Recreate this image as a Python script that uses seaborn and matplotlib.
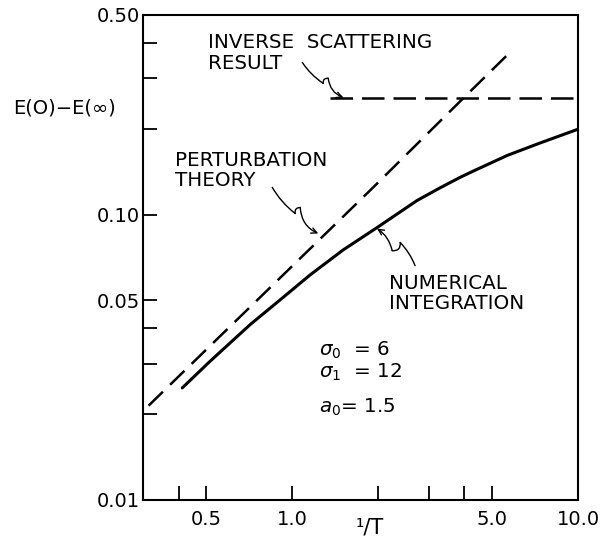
import matplotlib
matplotlib.use("Agg")
import matplotlib.pyplot as plt
from matplotlib.ticker import FixedLocator, FixedFormatter, NullFormatter
import pandas as pd
import seaborn as sns

# values
numeric_x = [0.412, 0.517, 0.713, 0.908, 1.156, 1.508, 1.98, 2.735, 3.29, 3.87, 4.29, 5.65, 7.36, 10.0]
numeric_y = [0.0247, 0.0307, 0.0412, 0.0503, 0.0615, 0.0752, 0.090, 0.112, 0.124, 0.135, 0.1418, 0.161, 0.178, 0.199]
pert_x = [0.314, 1.0, 1.92, 3.96, 5.88]
pert_y = [0.0214, 0.066, 0.1245, 0.255, 0.376]
inverse_x = [1.35, 10.0]
inverse_y = [0.255, 0.255]

x_major = [0.5, 1.0, 5.0, 10.0]
x_major_labels = ["0.5", "1.0", "5.0", "10.0"]
x_minor = [0.4, 2.0, 3.0, 4.0]
y_major = [0.01, 0.05, 0.10, 0.50]
y_major_labels = ["0.01", "0.05", "0.10", "0.50"]
y_minor = [0.02, 0.03, 0.04, 0.2, 0.3, 0.4]

params = [r"$\sigma_0$  = 6", r"$\sigma_1$  = 12", r"$a_0$= 1.5"]

# wavy pointer arrows: tail, kink, bump, tip (data coords)
inverse_arrow = [(1.084, 0.341), (1.283, 0.288), (1.336, 0.300), (1.51, 0.257)]
pert_arrow = [(0.851, 0.1245), (1.024, 0.1008), (1.066, 0.1058), (1.233, 0.0858)]
numeric_arrow = [(2.69, 0.0662), (2.386, 0.0798), (2.237, 0.0747), (1.98, 0.0893)]

sns.set_style("ticks")
plt.rcParams["font.family"] = ["DejaVu Sans"]
plt.rcParams["mathtext.fontset"] = "dejavusans"
plt.rcParams["text.color"] = "black"

fig = plt.figure(figsize=(6.03, 5.45), dpi=100)
ax = fig.add_axes([0.237, 0.0826, 0.7215, 0.8899])
ax.set_xscale("log")
ax.set_yscale("log")

num_df = pd.DataFrame({"x": numeric_x, "y": numeric_y})
pert_df = pd.DataFrame({"x": pert_x, "y": pert_y})
inv_df = pd.DataFrame({"x": inverse_x, "y": inverse_y})

sns.lineplot(data=num_df, x="x", y="y", ax=ax, color="black", lw=2.2,
             sort=False, estimator=None)
sns.lineplot(data=pert_df, x="x", y="y", ax=ax, color="black", lw=1.8,
             sort=False, estimator=None, linestyle=(0, (8, 4)))
sns.lineplot(data=inv_df, x="x", y="y", ax=ax, color="black", lw=1.8,
             sort=False, estimator=None, linestyle=(0, (9, 3.6)))

ax.set_xlim(0.3, 10.0)
ax.set_ylim(0.01, 0.5)

ax.xaxis.set_major_locator(FixedLocator(x_major))
ax.xaxis.set_major_formatter(FixedFormatter(x_major_labels))
ax.xaxis.set_minor_locator(FixedLocator(x_minor))
ax.xaxis.set_minor_formatter(NullFormatter())
ax.yaxis.set_major_locator(FixedLocator(y_major))
ax.yaxis.set_major_formatter(FixedFormatter(y_major_labels))
ax.yaxis.set_minor_locator(FixedLocator(y_minor))
ax.yaxis.set_minor_formatter(NullFormatter())

ax.tick_params(which="both", direction="in", length=10, width=1.3,
               labelsize=14, color="black", labelcolor="black")
ax.tick_params(axis="x", pad=7)
ax.tick_params(axis="y", pad=2)
for sp in ax.spines.values():
    sp.set_linewidth(1.5)
    sp.set_color("black")
ax.set_xlabel("")
ax.set_ylabel("")

fig.text(0.022, 0.802, "E(O)\u2212E(\u221e)", fontsize=14, va="center", ha="left")
fig.text(0.613, 0.033, "\u00b9/T", fontsize=15, va="center", ha="center")

tk = dict(transform=ax.transAxes, fontsize=14.3, ha="left", va="center")
ax.text(0.149, 0.944, "INVERSE  SCATTERING", **tk)
ax.text(0.149, 0.901, "RESULT", **tk)
ax.text(0.074, 0.701, "PERTURBATION", **tk)
ax.text(0.074, 0.658, "THEORY", **tk)
ax.text(0.566, 0.447, "NUMERICAL", **tk)
ax.text(0.566, 0.406, "INTEGRATION", **tk)
for i, s in enumerate(params):
    ax.text(0.405, [0.309, 0.264, 0.19][i], s, **tk)


def wavy_arrow(pts, bend=0.3):
    seg = dict(lw=1.0, color="black", shrinkA=0, shrinkB=0)
    ax.annotate("", xy=pts[1], xytext=pts[0],
                arrowprops=dict(seg, arrowstyle="-", connectionstyle="arc3,rad=0.1"))
    ax.annotate("", xy=pts[2], xytext=pts[1],
                arrowprops=dict(seg, arrowstyle="-", connectionstyle="arc3,rad=-0.6"))
    ax.annotate("", xy=pts[3], xytext=pts[2],
                arrowprops=dict(seg, arrowstyle="->", connectionstyle=f"arc3,rad={bend}"))


wavy_arrow(inverse_arrow)
wavy_arrow(pert_arrow)
wavy_arrow(numeric_arrow, bend=0.2)

fig.savefig("out.png", dpi=100)
